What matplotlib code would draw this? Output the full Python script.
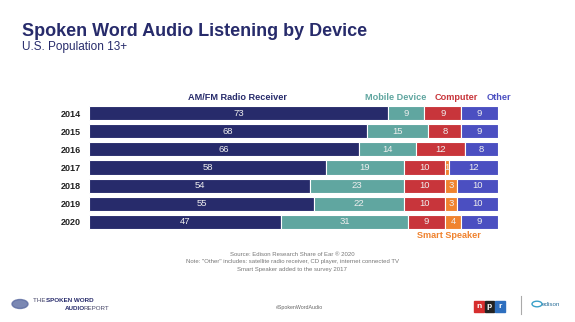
import matplotlib.pyplot as plt
import numpy as np

plt.rcParams['font.family'] = ['Liberation Sans', 'DejaVu Sans']

years = ['2014', '2015', '2016', '2017', '2018', '2019', '2020']
radio = [73, 68, 66, 58, 54, 55, 47]
mobile = [9, 15, 14, 19, 23, 22, 31]
computer = [9, 8, 12, 10, 10, 10, 9]
smart = [0, 0, 0, 1, 3, 3, 4]
other = [9, 9, 8, 12, 10, 10, 9]

series = [radio, mobile, computer, smart, other]
colors = ['#272b6b', '#60a6a0', '#c8353b', '#f0832f', '#4b4fc1']
navy = '#272b6b'

W, H = 575, 322
fig = plt.figure(figsize=(W / 100, H / 100), dpi=100)

def px(x, y):
    return x / W, 1 - y / H

# bar area
ax = fig.add_axes([89 / W, 1 - 231 / H, 409 / W, 127 / H])
y = np.arange(len(years))
left = np.zeros(len(years))
for k, vals in enumerate(series):
    vals = np.array(vals)
    ax.barh(y, vals, left=left, height=0.78, color=colors[k],
            edgecolor='white', linewidth=0.8)
    for i, v in enumerate(vals):
        if v > 0:
            ax.text(left[i] + v / 2, y[i], str(v), ha='center', va='center',
                    color='#eeeeee', fontsize=6.8)
    left = left + vals
ax.set_xlim(0, 100)
ax.set_ylim(len(years) - 0.5, -0.5)
ax.set_yticks(y)
ax.set_yticklabels(years, fontsize=6.5, fontweight='bold', color='#222222')
ax.tick_params(axis='y', length=0, pad=6)
ax.set_xticks([])
for s in ax.spines.values():
    s.set_visible(False)

# titles
fig.text(*px(22, 32), 'Spoken Word Audio Listening by Device', fontsize=13,
         fontweight='bold', color=navy, va='center', ha='left')
fig.text(*px(22, 47), 'U.S. Population 13+', fontsize=8.5, color=navy,
         va='center', ha='left')

# series labels
fig.text(*px(238, 97), 'AM/FM Radio Receiver', fontsize=6.6, fontweight='bold',
         color=navy, ha='center', va='center')
fig.text(*px(396, 97), 'Mobile Device', fontsize=6.6, fontweight='bold',
         color=colors[1], ha='center', va='center')
fig.text(*px(456, 97), 'Computer', fontsize=6.6, fontweight='bold',
         color=colors[2], ha='center', va='center')
fig.text(*px(499, 97), 'Other', fontsize=6.6, fontweight='bold',
         color=colors[4], ha='center', va='center')
fig.text(*px(449, 236), 'Smart Speaker', fontsize=6.6, fontweight='bold',
         color=colors[3], ha='center', va='center')

# notes
notes = ['Source: Edison Research Share of Ear \u00ae 2020',
         'Note: "Other" includes: satellite radio receiver, CD player, internet connected TV',
         'Smart Speaker added to the survey 2017']
for j, n in enumerate(notes):
    fig.text(*px(292, 254 + j * 7.5), n, fontsize=4.3, color='#777777',
             ha='center', va='center')

# footer
fig.text(*px(300, 308), '#SpokenWordAudio', fontsize=3.8, color='#666666',
         ha='center', va='center')
fig.text(*px(33, 301), 'THE ', fontsize=4.5, color='#444466', ha='left', va='center')
fig.text(*px(46, 301), 'SPOKEN WORD', fontsize=4.5, color='#272b6b',
         fontweight='bold', ha='left', va='center')
fig.text(*px(65, 309), 'AUDIO', fontsize=4.5, color='#272b6b',
         fontweight='bold', ha='left', va='center')
fig.text(*px(84, 309), 'REPORT', fontsize=4.5, color='#444466', ha='left', va='center')
fig.patches.append(plt.Circle(px(20, 304), 8 / W, transform=fig.transFigure,
                              color='#5a6aa0', alpha=0.8))
for k, (ch, c) in enumerate(zip('npr', ['#d62e2e', '#222222', '#2e6fbf'])):
    x0, y0 = px(474 + k * 10.5, 312)
    fig.patches.append(plt.Rectangle((x0, y0), 9.5 / W, 11 / H,
                                     transform=fig.transFigure, color=c))
    fig.text(x0 + 4.75 / W, y0 + 5.5 / H, ch, fontsize=6, color='white',
             fontweight='bold', ha='center', va='center')
fig.add_artist(plt.Line2D([521 / W, 521 / W], [1 - 296 / H, 1 - 314 / H],
                          color='#aaaaaa', lw=0.8))
fig.text(*px(542, 305), 'edison', fontsize=4.5, color='#2a6f9a',
         ha='left', va='center')
fig.patches.append(plt.Circle(px(537, 304), 5 / W, transform=fig.transFigure,
                              fill=False, ec='#3aa0c8', lw=1))

fig.savefig('out.png', dpi=100)
